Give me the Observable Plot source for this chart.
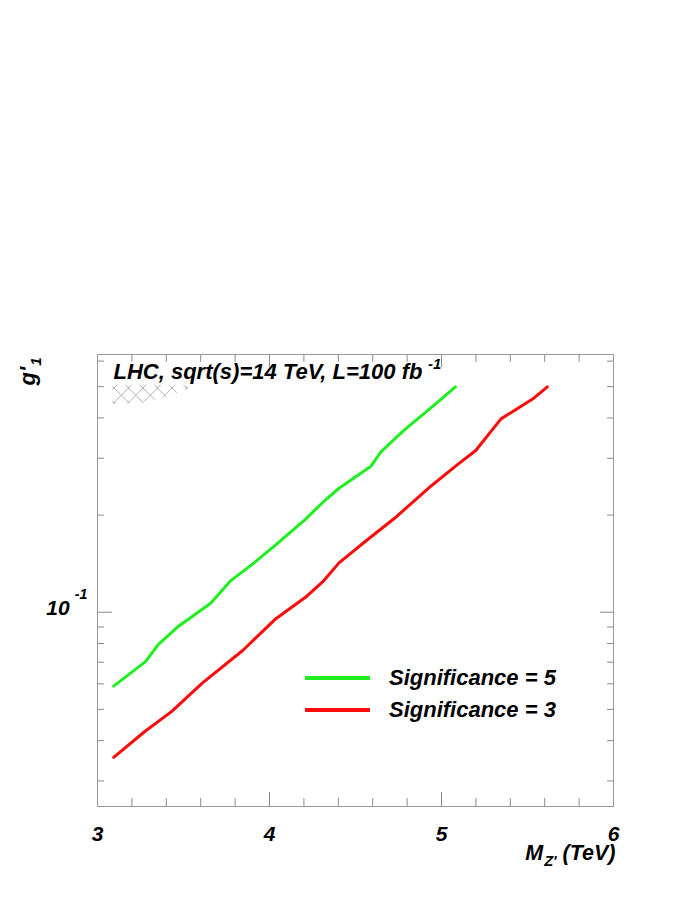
<!DOCTYPE html>
<html><head><meta charset="utf-8">
<script src="https://cdn.jsdelivr.net/npm/d3@7"></script>
<script src="https://cdn.jsdelivr.net/npm/@observablehq/plot@0.6"></script>
<style>
body{margin:0;background:#fff;}
#chart{position:relative;width:698px;height:903px;background:#fff;}
.legend{position:absolute;left:305px;top:662px;font-family:"Liberation Sans",Arial,sans-serif;font-weight:bold;font-style:italic;font-size:22px;color:#000;}
.legend .row{display:flex;align-items:center;height:32px;}
.legend .sw{width:65px;height:3.5px;margin-right:19px;}
</style></head><body><div id="chart"></div>
<script>
// ---- data ----
const massSig5 = [3.094, 3.279, 3.353, 3.471, 3.658, 3.775, 3.903, 4.031, 4.207, 4.315, 4.404, 4.590, 4.649, 4.786, 4.973, 5.081];
const gSig5    = [0.0590, 0.0703, 0.0794, 0.0905, 0.1066, 0.1253, 0.1412, 0.1609, 0.1937, 0.2203, 0.2422, 0.2835, 0.3147, 0.3682, 0.4454, 0.4993];
const massSig3 = [3.094, 3.275, 3.432, 3.609, 3.844, 4.031, 4.217, 4.315, 4.404, 4.571, 4.727, 4.943, 5.091, 5.199, 5.346, 5.532, 5.615];
const gSig3    = [0.0355, 0.0427, 0.0493, 0.0603, 0.0761, 0.0949, 0.1121, 0.1251, 0.1422, 0.1680, 0.1955, 0.2470, 0.2862, 0.3170, 0.3973, 0.4584, 0.4993];
const hatchMass = [3.09, 3.28, 3.42, 3.53];
const hatchLow  = [0.440, 0.446, 0.468, 0.492];
const hatchHigh = [0.505, 0.505, 0.505, 0.505];
const seriesNames = ["Significance = 5", "Significance = 3"];
const seriesColors = ["#1fee1f", "#ff0a0a"];
const xMajorTicks = [3, 4, 5, 6];
const xMinorTicks = [3.2, 3.4, 3.6, 3.8, 4.2, 4.4, 4.6, 4.8, 5.2, 5.4, 5.6, 5.8];
const xTickLabels = ["3", "4", "5", "6"];
const yMajorTicks = [0.1];
const yMinorTicks = [0.03, 0.04, 0.05, 0.06, 0.07, 0.08, 0.09, 0.2, 0.3, 0.4, 0.5, 0.6];
const yTickLabels = ["10^{-1}"];
const titleText = "LHC, sqrt(s)=14 TeV, L=100 fb^{-1}";
const xTitle = "M_{Z'} (TeV)";
const yTitle = "g'_{1}";

// ---- build tables ----
const sig5 = massSig5.map((x, i) => ({x, y: gSig5[i]}));
const sig3 = massSig3.map((x, i) => ({x, y: gSig3[i]}));
const hatch = hatchMass.map((x, i) => ({x, y1: hatchLow[i], y2: hatchHigh[i]}));

const tickShape = {draw(ctx, l) { ctx.moveTo(0, 0); ctx.lineTo(0, -l); }};
const FONT = "'Liberation Sans', Arial, Helvetica, sans-serif";
const tickColor = "#8a8a8a";
const txt = {fontWeight: "bold", fontStyle: "italic", fill: "black"};
const ticks = (data, opts) => Plot.vector(data, {anchor: "start", shape: tickShape, stroke: tickColor, strokeWidth: 1, ...opts});

const plot = Plot.plot({
  width: 698, height: 903,
  marginLeft: 97, marginRight: 85, marginTop: 354, marginBottom: 97,
  x: {domain: [3, 6], axis: null},
  y: {type: "log", domain: [0.025, 0.629], axis: null},
  style: {fontFamily: FONT, background: "white", overflow: "visible"},
  marks: [
    Plot.areaY(hatch, {x: "x", y1: "y1", y2: "y2", fill: "url(#xhatch)"}),
    Plot.line(sig5, {x: "x", y: "y", stroke: seriesColors[0], strokeWidth: 3}),
    Plot.line(sig3, {x: "x", y: "y", stroke: seriesColors[1], strokeWidth: 3}),
    ticks(xMinorTicks, {x: d => d, frameAnchor: "bottom", rotate: 0, length: 8}),
    ticks(xMajorTicks, {x: d => d, frameAnchor: "bottom", rotate: 0, length: 14}),
    ticks(xMinorTicks, {x: d => d, frameAnchor: "top", rotate: 180, length: 7}),
    ticks(xMajorTicks, {x: d => d, frameAnchor: "top", rotate: 180, length: 12}),
    ticks(yMinorTicks, {y: d => d, frameAnchor: "left", rotate: 90, length: 6}),
    ticks(yMajorTicks, {y: d => d, frameAnchor: "left", rotate: 90, length: 14}),
    ticks(yMinorTicks, {y: d => d, frameAnchor: "right", rotate: -90, length: 6}),
    ticks(yMajorTicks, {y: d => d, frameAnchor: "right", rotate: -90, length: 13}),
    Plot.frame({stroke: "#999"}),
    Plot.text(xMajorTicks, {x: d => d, frameAnchor: "bottom", text: (d, i) => xTickLabels[i], dy: 34, lineAnchor: "bottom", textAnchor: "middle", fontSize: 21, ...txt}),
    Plot.text(yMajorTicks, {y: d => d, frameAnchor: "left", text: (d, i) => yTickLabels[i], dx: -10, dy: 3, lineAnchor: "bottom", textAnchor: "end", fontSize: 21, ...txt}),
    Plot.text([titleText], {frameAnchor: "top-left", text: d => d, dx: 16, dy: 24, lineAnchor: "bottom", textAnchor: "start", fontSize: 22, ...txt}),
    Plot.text([xTitle], {frameAnchor: "bottom-right", text: d => d, dx: 2, dy: 53, lineAnchor: "bottom", textAnchor: "end", fontSize: 21.5, ...txt}),
    Plot.text([yTitle], {frameAnchor: "top-left", text: d => d, dx: -63, dy: 31, rotate: -90, lineAnchor: "bottom", textAnchor: "start", fontSize: 22, ...txt})
  ]
});

const chart = document.getElementById("chart");
chart.appendChild(plot);

// crosshatch pattern
const svg = d3.select(plot);
const pat = svg.insert("defs", ":first-child").append("pattern")
  .attr("id", "xhatch").attr("patternUnits", "userSpaceOnUse")
  .attr("width", 14.5).attr("height", 14.5)
  .attr("patternTransform", "translate(114,388)");
pat.append("path").attr("d", "M0,0L14.5,14.5M14.5,0L0,14.5")
  .attr("stroke", "#777").attr("stroke-width", 0.6).attr("fill", "none");

// superscripts / subscripts as tspans
svg.selectAll("text").each(function () {
  const t = this.textContent;
  if (!/[\^_]\{/.test(t)) return;
  const fs = parseFloat(getComputedStyle(this).fontSize) || 20;
  const supShift = t.startsWith("10^") ? 0.75 : 0.45;
  const el = d3.select(this);
  el.text(null);
  const re = /([\^_])\{([^}]*)\}|([^\^_]+)/g;
  let m, cur = 0;
  while ((m = re.exec(t))) {
    let target, size, text, dx = 0;
    if (m[3]) { target = 0; size = fs; text = m[3]; }
    else if (m[1] === "^") { target = -supShift * fs; size = 0.68 * fs; text = m[2]; dx = 0.25 * fs; }
    else { target = 0.3 * fs; size = 0.68 * fs; text = m[2]; dx = 0.05 * fs; }
    const ts = el.append("tspan").text(text).attr("font-size", size);
    if (target - cur) ts.attr("dy", target - cur);
    if (dx) ts.attr("dx", dx);
    cur = target;
  }
});

// legend
const legend = document.createElement("div");
legend.className = "legend";
seriesNames.forEach((name, i) => {
  const row = document.createElement("div"); row.className = "row";
  const sw = document.createElement("span"); sw.className = "sw"; sw.style.background = seriesColors[i];
  const lb = document.createElement("span"); lb.textContent = name;
  row.appendChild(sw); row.appendChild(lb); legend.appendChild(row);
});
chart.appendChild(legend);
</script>
</body></html>
